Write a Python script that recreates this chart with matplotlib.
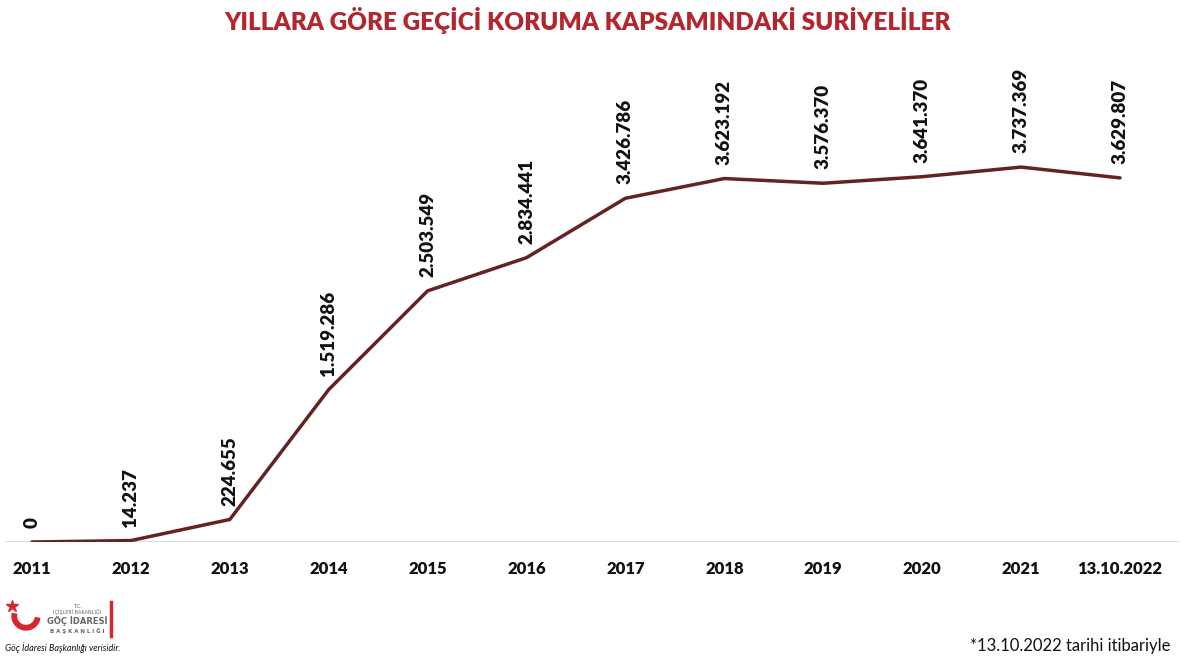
import matplotlib
matplotlib.use("Agg")
import matplotlib.pyplot as plt
from matplotlib.patches import Wedge

years = ["2011", "2012", "2013", "2014", "2015", "2016", "2017", "2018",
         "2019", "2020", "2021", "13.10.2022"]
values = [0, 14237, 224655, 1519286, 2503549, 2834441, 3426786, 3623192,
          3576370, 3641370, 3737369, 3629807]
value_labels = ["0", "14.237", "224.655", "1.519.286", "2.503.549", "2.834.441",
                "3.426.786", "3.623.192", "3.576.370", "3.641.370", "3.737.369",
                "3.629.807"]
title = "YILLARA GÖRE GEÇİCİ KORUMA KAPSAMINDAKİ SURİYELİLER"
footnote = "*13.10.2022 tarihi itibariyle"
source = "Göç İdaresi Başkanlığı verisidir."

W, H = 1184, 666
fig = plt.figure(figsize=(W / 100, H / 100), dpi=100)
fig.patch.set_facecolor("white")

ax = fig.add_axes([5 / W, (H - 542) / H, (1180 - 5) / W, (542 - 60) / H])
x = list(range(len(years)))
line_color = "#642222"
ax.plot(x, values, color=line_color, lw=2.5, solid_capstyle="round", zorder=3)
ax.axhline(0, color="#D9D9D9", lw=1.2, zorder=1)

ax.set_xlim(-0.273, 11.607)
ax.set_ylim(0, 4.805e6)
for s in ax.spines.values():
    s.set_visible(False)
ax.set_yticks([])
ax.set_xticks(x)
ax.set_xticklabels(years, fontfamily="Lato", fontweight="heavy", fontsize=12,
                   color="#111111")
ax.tick_params(axis="x", length=0, pad=14)

for xi, v, lab in zip(x, values, value_labels):
    ax.annotate(lab, (xi, v), xytext=(0, 10), textcoords="offset points",
                rotation=90, ha="center", va="bottom", fontfamily="Lato",
                fontweight="heavy", fontsize=13.5, color="#111111")

fig.text(588 / W, 1 - 21 / H, title, ha="center", va="center",
         fontfamily="Lato", fontweight="heavy", fontsize=17.5, color="#B3262D")

fig.text(1170 / W, 1 - 646 / H, footnote, ha="right", va="center",
         fontfamily="Lato", fontsize=12, color="#111111")

# logo
lax = fig.add_axes([0, 0, 130 / W, 76 / H])
lax.set_xlim(0, 130)
lax.set_ylim(76, 0)
lax.axis("off")
# y axis inverted: angles measured in data coords, so bottom of bowl is at 90 deg
lax.add_patch(Wedge((26, 26), 14, 10, 190, width=4.5, color="#D7262E"))
lax.plot([12], [16], marker="*", ms=9, color="#D7262E")
lax.text(77, 16, "T.C.", fontsize=3.5, ha="center", va="center", color="#666666")
lax.text(77, 22, "İÇİŞLERİ BAKANLIĞI", fontsize=3.5, ha="center", va="center", color="#666666")
lax.text(77, 31, "GÖÇ İDARESİ", fontsize=6, fontweight="bold", ha="center", va="center", color="#666666")
lax.text(77, 41, "B A Ş K A N L I Ğ I", fontsize=4, fontweight="bold", ha="center", va="center", color="#666666")
lax.plot([111, 111], [12, 46], color="#D7262E", lw=2.5)
lax.text(5, 58, source, fontsize=6.5, style="italic", ha="left", va="center",
         fontfamily="Lato", color="#111111")

fig.savefig("out.png", dpi=100, facecolor="white")
